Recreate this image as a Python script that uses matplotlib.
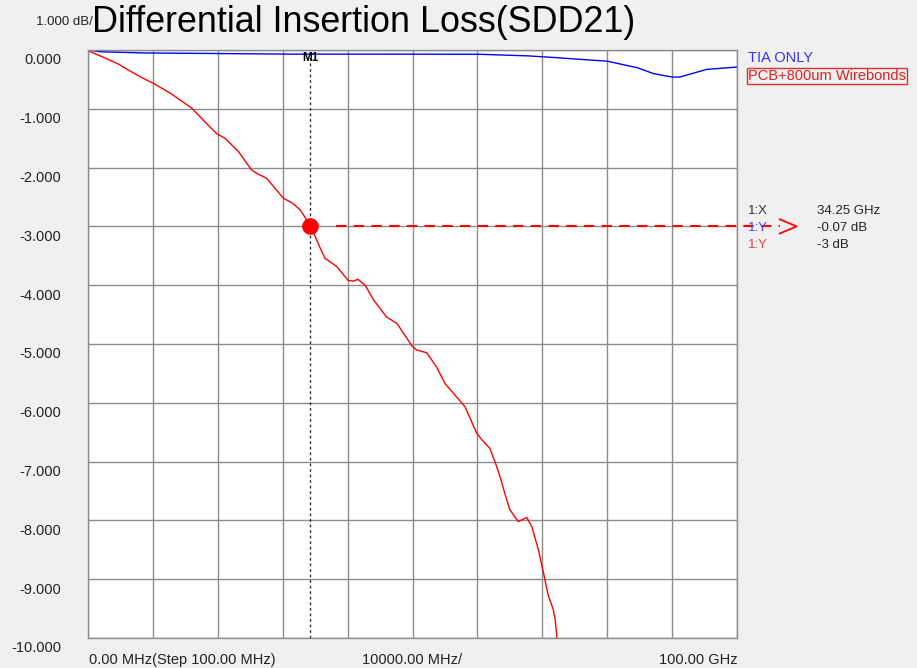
import matplotlib
matplotlib.use("Agg")
import matplotlib.pyplot as plt
import matplotlib.transforms as mtransforms

# SDD21 traces (frequency in GHz, loss in dB)
freq_pcb = [0.0, 0.15, 2.1, 4.7, 6.2, 8.3, 10.3, 12.9, 16.0, 18.0, 19.8, 21.1, 23.2,
            25.2, 26.2, 27.5, 28.8, 30.1, 31.6, 32.7, 33.7, 34.25, 35.0, 35.7, 36.5,
            38.3, 40.1, 40.9, 41.6, 42.7, 44.0, 46.0, 47.6, 49.9, 50.6, 52.2, 53.7,
            55.0, 56.8, 58.1, 59.9, 60.7, 61.9, 62.7, 63.5, 64.3, 65.0, 66.3, 67.6,
            68.4, 69.4, 70.2, 70.9, 71.7, 71.96, 72.2, 72.35]
loss_pcb = [0.0, -0.02, -0.11, -0.24, -0.34, -0.47, -0.58, -0.75, -0.99, -1.22, -1.42,
            -1.50, -1.73, -2.04, -2.11, -2.18, -2.35, -2.52, -2.61, -2.72, -2.89, -3.0,
            -3.17, -3.35, -3.54, -3.68, -3.92, -3.93, -3.90, -4.0, -4.25, -4.54, -4.65,
            -5.03, -5.10, -5.15, -5.39, -5.67, -5.90, -6.07, -6.52, -6.63, -6.77, -7.00,
            -7.26, -7.57, -7.82, -8.02, -7.95, -8.11, -8.50, -8.90, -9.27, -9.52, -9.67,
            -9.92, -10.3]

freq_tia = [0.0, 2.0, 8.5, 31.0, 45.0, 60.4, 67.8, 72.2, 75.3, 80.0, 84.6, 87.1, 90.0,
            91.2, 95.3, 100.0]
loss_tia = [0.0, -0.03, -0.05, -0.07, -0.07, -0.073, -0.10, -0.13, -0.155, -0.19, -0.30,
            -0.40, -0.46, -0.46, -0.33, -0.29]

series_names = ["TIA ONLY", "PCB+800um Wirebonds"]
marker_freq = 34.25
marker_tia = -0.07
marker_pcb = -3

y_ticks = [0, -1, -2, -3, -4, -5, -6, -7, -8, -9, -10]
y_labels = ["%.3f" % v for v in y_ticks]
x_ticks = [0, 10, 20, 30, 40, 50, 60, 70, 80, 90, 100]

W, H = 917, 668
plt.rcParams['font.family'] = ['Liberation Sans', 'DejaVu Sans']
bg = '#f0f0f0'

fig = plt.figure(figsize=(W / 100, H / 100), dpi=100, facecolor=bg)
ax = fig.add_axes([88 / W, 1 - 638 / H, (737 - 88) / W, (638 - 50) / H])
ax.set_facecolor('white')

ax.plot(freq_tia, loss_tia, color='#0000ff', lw=1.0)
ax.plot(freq_pcb, loss_pcb, color='#ff0000', lw=1.0)

ax.set_xlim(0, 100)
ax.set_ylim(-10, 0)
ax.set_xticks(x_ticks)
ax.set_xticklabels([])
ax.set_yticks(y_ticks)
ax.set_yticklabels(y_labels, fontsize=10.5, color='#222222')
ax.tick_params(axis='both', length=0)
ax.tick_params(axis='y', pad=19)
# labels sit a little below their gridlines, like the analyser screen
shift = mtransforms.ScaledTranslation(0, -9 / 100, fig.dpi_scale_trans)
for lab in ax.get_yticklabels():
    lab.set_transform(lab.get_transform() + shift)

ax.grid(True, color='#8c8c8c', lw=1.0)
for s in ax.spines.values():
    s.set_color('#8c8c8c')
    s.set_linewidth(1.0)

# marker M1
ax.axvline(marker_freq, color='#333333', lw=1.0, ls=(0, (2, 2)), zorder=3)
ax.plot([marker_freq], [marker_pcb], 'o', color='#ff0000', ms=11, zorder=4)
ax.text(marker_freq, -0.03, "M1", ha='center', va='top', fontsize=8.5,
        fontweight='bold', color='black')
x_end = 106.6
ax.plot([marker_freq + 3.9, x_end], [marker_pcb, marker_pcb], color='#ff0000',
        lw=1.5, ls=(0, (5, 3.5)), clip_on=False, zorder=4)
ax.plot([x_end, x_end + 2.6, x_end], [marker_pcb + 0.12, marker_pcb, marker_pcb - 0.12],
        color='#ff0000', lw=1.3, clip_on=False, zorder=4)

def ftext(px, py, s, **kw):
    fig.text(px / W, 1 - py / H, s, **kw)

ftext(92, 22, "Differential Insertion Loss(SDD21)", fontsize=25.8, va='center',
      ha='left', color='black')
ftext(93, 22, "1.000 dB/", fontsize=9.5, va='center', ha='right', color='#222222')

ftext(89, 660, "0.00 MHz(Step 100.00 MHz)", fontsize=10.5, va='center', ha='left',
      color='#222222')
ftext(412, 660, "10000.00 MHz/", fontsize=10.5, va='center', ha='center',
      color='#222222')
ftext(738, 660, "100.00 GHz", fontsize=10.5, va='center', ha='right', color='#222222')

ftext(748, 58, series_names[0], fontsize=10.5, va='center', ha='left', color='#3333ff')
ftext(748, 76, series_names[1], fontsize=10.5, va='center', ha='left', color='#e02020',
      bbox=dict(boxstyle='square,pad=0.1', fc='none', ec='#e03030', lw=1.0))

ftext(748, 211, "1:X", fontsize=9.5, va='center', ha='left', color='#333333')
ftext(817, 211, "%.2f GHz" % marker_freq, fontsize=9.5, va='center', ha='left',
      color='#222222')
ftext(748, 228, "1:Y", fontsize=9.5, va='center', ha='left', color='#4444ff')
ftext(817, 228, "%.2f dB" % marker_tia, fontsize=9.5, va='center', ha='left',
      color='#222222')
ftext(748, 245, "1:Y", fontsize=9.5, va='center', ha='left', color='#e04040')
ftext(817, 245, "%d dB" % marker_pcb, fontsize=9.5, va='center', ha='left',
      color='#222222')

fig.savefig("out.png", dpi=100, facecolor=bg)
